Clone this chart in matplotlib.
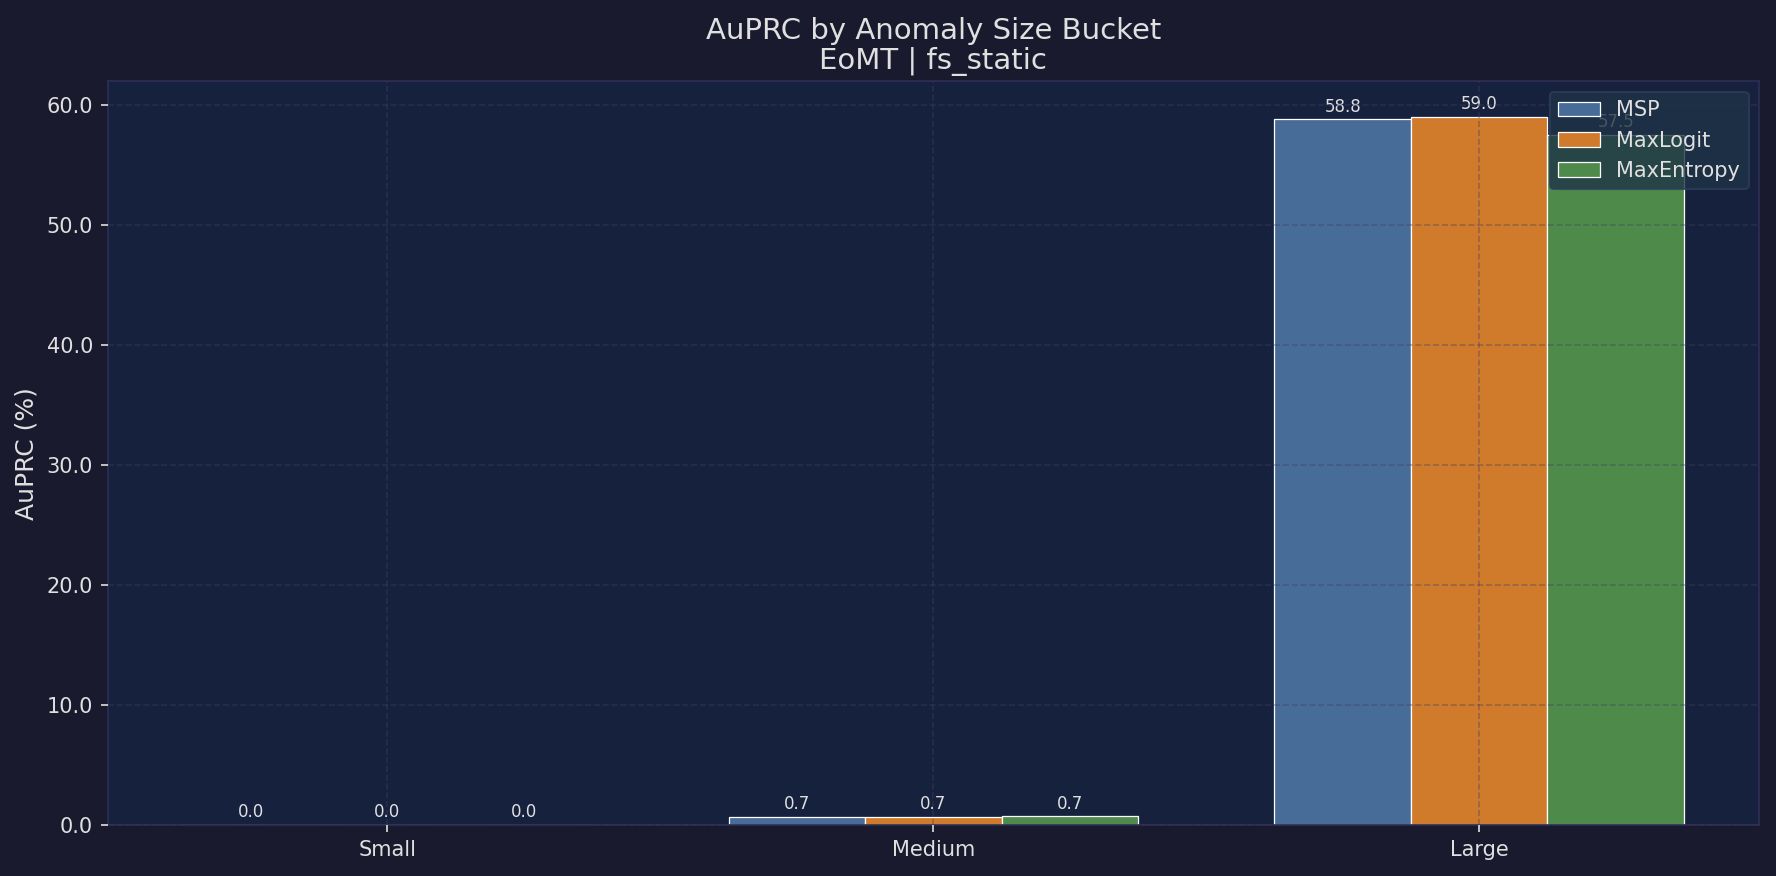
import numpy as np
import matplotlib
matplotlib.use('Agg')
import matplotlib.pyplot as plt

BUCKETS = ['Small', 'Medium', 'Large']
METHODS = ['MSP', 'MaxLogit', 'MaxEntropy']
MSP = [0.0, 0.68, 58.8]
MAXLOGIT = [0.0, 0.66, 59.0]
MAXENTROPY = [0.0, 0.74, 57.5]
COLORS = ['#466c97', '#d07b2c', '#4e8b4a']

BG = '#1a1a2e'
AX_BG = '#16213e'
TXT = '#e0e0e0'

fig, ax = plt.subplots(figsize=(11.84, 5.84), dpi=150)
fig.patch.set_facecolor(BG)
ax.set_facecolor(AX_BG)

x = np.arange(len(BUCKETS))
w = 0.25
series = [MSP, MAXLOGIT, MAXENTROPY]
for k, (vals, name) in enumerate(zip(series, METHODS)):
    bars = ax.bar(x + (k - 1) * w, vals, w, label=name, color=COLORS[k],
                  edgecolor='white', linewidth=0.6, zorder=2)
    for b, v in zip(bars, vals):
        ax.text(b.get_x() + b.get_width() / 2, b.get_height() + 0.3, f'{v:.1f}',
                ha='center', va='bottom', fontsize=8, color=TXT, zorder=1)

ax.set_xticks(x)
ax.set_xticklabels(BUCKETS)
ax.set_ylim(0, max(max(s) for s in series) * 1.05)
ax.yaxis.set_major_formatter(matplotlib.ticker.FormatStrFormatter('%.1f'))
ax.set_ylabel('AuPRC (%)', fontsize=12, color=TXT)
ax.set_title('AuPRC by Anomaly Size Bucket\nEoMT | fs_static', fontsize=14,
             color=TXT, linespacing=1.1)
ax.tick_params(colors=TXT, labelsize=10)
for s in ax.spines.values():
    s.set_color('#2e2e55')
ax.grid(True, linestyle='--', color='#404060', alpha=0.4, zorder=3)
ax.set_axisbelow(False)

leg = ax.legend(loc='upper right', fontsize=10, facecolor='#1e3347',
                edgecolor='#2e3e5a', framealpha=0.8, labelcolor=TXT)
leg.set_zorder(5)

plt.subplots_adjust(left=0.0606, right=0.9904, top=0.907, bottom=0.0582)
plt.savefig('out.png', dpi=150, facecolor=BG)
